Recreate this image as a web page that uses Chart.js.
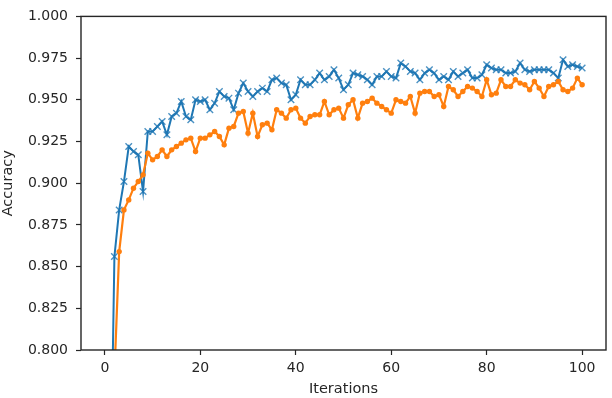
<!DOCTYPE html>
<html>
<head>
<meta charset="utf-8">
<script src="https://cdn.jsdelivr.net/npm/chart.js@4"></script>
<style>
  html, body { margin: 0; padding: 0; background: #fff; }
  #wrap { width: 612px; height: 398px; }
</style>
</head>
<body>
<div id="wrap"><canvas id="accChart" width="612" height="398"></canvas></div>
<script>
// Iteration index on the x axis
const iterations = Array.from({ length: 100 }, (_, i) => i + 1);

// Blue series (x markers)
const blueAcc = [
  0.680, 0.856, 0.884, 0.901, 0.922, 0.919, 0.917, 0.895, 0.931, 0.931,
  0.934, 0.937, 0.929, 0.940, 0.942, 0.949, 0.940, 0.938, 0.950, 0.949,
  0.950, 0.944, 0.948, 0.955, 0.952, 0.951, 0.944, 0.954, 0.960, 0.955,
  0.952, 0.955, 0.957, 0.955, 0.962, 0.963, 0.960, 0.959, 0.950, 0.953,
  0.962, 0.959, 0.959, 0.962, 0.966, 0.962, 0.964, 0.968, 0.963, 0.956,
  0.959, 0.966, 0.965, 0.964, 0.962, 0.959, 0.964, 0.964, 0.967, 0.964,
  0.963, 0.972, 0.970, 0.967, 0.966, 0.962, 0.966, 0.968, 0.966, 0.962,
  0.964, 0.962, 0.967, 0.964, 0.966, 0.968, 0.963, 0.963, 0.965, 0.971,
  0.969, 0.968, 0.968, 0.966, 0.966, 0.967, 0.972, 0.968, 0.967, 0.968,
  0.968, 0.968, 0.968, 0.966, 0.963, 0.974, 0.970, 0.971, 0.970, 0.969
];

// Orange series (dot markers)
const orangeAcc = [
  0.500, 0.785, 0.859, 0.884, 0.890, 0.897, 0.901, 0.905, 0.918, 0.914,
  0.916, 0.920, 0.916, 0.920, 0.922, 0.924, 0.926, 0.927, 0.919, 0.927,
  0.927, 0.929, 0.931, 0.928, 0.923, 0.933, 0.934, 0.942, 0.943, 0.930,
  0.942, 0.928, 0.935, 0.936, 0.932, 0.944, 0.942, 0.939, 0.944, 0.945,
  0.939, 0.936, 0.940, 0.941, 0.941, 0.949, 0.941, 0.944, 0.945, 0.939,
  0.947, 0.950, 0.939, 0.948, 0.949, 0.951, 0.948, 0.946, 0.944, 0.942,
  0.950, 0.949, 0.948, 0.952, 0.942, 0.954, 0.955, 0.955, 0.952, 0.953,
  0.946, 0.958, 0.956, 0.952, 0.955, 0.958, 0.957, 0.955, 0.952, 0.962,
  0.953, 0.954, 0.962, 0.958, 0.958, 0.962, 0.960, 0.959, 0.956, 0.961,
  0.957, 0.952, 0.958, 0.959, 0.961, 0.956, 0.955, 0.957, 0.963, 0.959
];

const xTicks = [0, 20, 40, 60, 80, 100];
const yTicks = [0.800, 0.825, 0.850, 0.875, 0.900, 0.925, 0.950, 0.975, 1.000];

const FONT = "'DejaVu Sans', sans-serif";
const TEXT = '#262626';

// matplotlib-style box around the plot area
const frame = {
  id: 'frame',
  afterDatasetsDraw(chart) {
    const { ctx, chartArea: a } = chart;
    ctx.save();
    ctx.strokeStyle = '#262626';
    ctx.lineWidth = 1.4;
    ctx.strokeRect(a.left, a.top, a.right - a.left, a.bottom - a.top);
    ctx.restore();
  }
};

const ctx = document.getElementById('accChart').getContext('2d');
new Chart(ctx, {
  type: 'line',
  data: {
    labels: iterations,
    datasets: [
      {
        data: blueAcc,
        borderColor: '#1f77b4',
        backgroundColor: '#1f77b4',
        borderWidth: 2,
        pointStyle: 'crossRot',
        pointRadius: 4.6,
        pointBorderWidth: 1.4,
        pointBorderColor: 'rgba(31,119,180,0.8)',
        tension: 0,
        clip: 0,
        order: 2
      },
      {
        data: orangeAcc,
        borderColor: '#ff7f0e',
        backgroundColor: '#ff7f0e',
        borderWidth: 2.2,
        pointStyle: 'circle',
        pointRadius: 2.7,
        pointBorderWidth: 0,
        tension: 0,
        clip: 0,
        order: 1
      }
    ]
  },
  options: {
    responsive: false,
    animation: false,
    devicePixelRatio: 1,
    layout: { padding: { top: 6, right: 2, left: 0, bottom: 0 } },
    plugins: {
      legend: { display: false },
      tooltip: { enabled: false }
    },
    scales: {
      x: {
        type: 'linear',
        min: -5,
        max: 105,
        afterBuildTicks: s => { s.ticks = xTicks.map(v => ({ value: v })); },
        afterFit: s => { s.height = 48; },
        border: { display: false },
        grid: { drawOnChartArea: false, drawTicks: true, tickLength: 5, color: '#262626', tickWidth: 1.2 },
        ticks: { color: TEXT, font: { family: FONT, size: 14 }, padding: 5, maxRotation: 0 },
        title: { display: true, text: 'Iterations', color: TEXT, font: { family: FONT, size: 14.5 }, padding: 0 }
      },
      y: {
        min: 0.8,
        max: 1.0,
        afterBuildTicks: s => { s.ticks = yTicks.map(v => ({ value: v })); },
        afterFit: s => { s.width = 81; },
        border: { display: false },
        grid: { drawOnChartArea: false, drawTicks: true, tickLength: 5, color: '#262626', tickWidth: 1.2 },
        ticks: {
          color: TEXT,
          font: { family: FONT, size: 14 },
          padding: 8,
          callback: v => v.toFixed(3)
        },
        title: { display: true, text: 'Accuracy', color: TEXT, font: { family: FONT, size: 14.5 }, padding: 0 }
      }
    }
  },
  plugins: [frame]
});
</script>
</body>
</html>
